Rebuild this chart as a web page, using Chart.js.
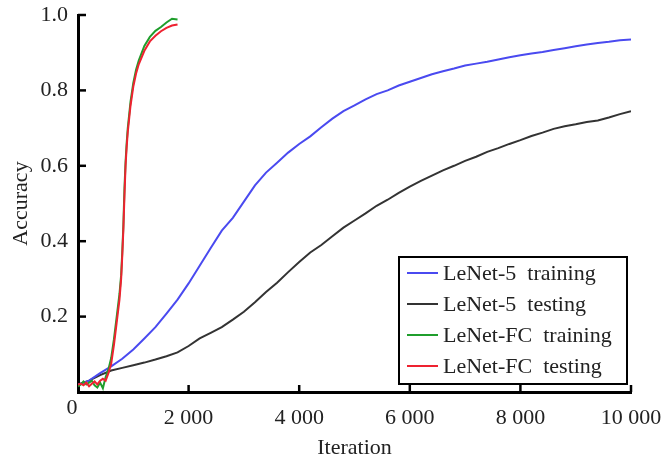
<!DOCTYPE html>
<html>
<head>
<meta charset="utf-8">
<script src="https://cdn.jsdelivr.net/npm/chart.js@4.4.0/dist/chart.umd.min.js"></script>
<style>
  html, body { margin: 0; padding: 0; background: #fff; }
  #wrap { width: 662px; height: 464px; }
</style>
</head>
<body>
<div id="wrap"><canvas id="chart"></canvas></div>
<script>
// Series names (legend order)
const seriesLabels = ['LeNet-5  training', 'LeNet-5  testing', 'LeNet-FC  training', 'LeNet-FC  testing'];
const seriesColors = ['#4a4af0', '#333333', '#1f9e2c', '#ee2230'];

// LeNet-5 curves, sampled every 200 iterations
const lenet5Iter = [0, 200, 400, 600, 800, 1000, 1200, 1400, 1600, 1800, 2000, 2200, 2400, 2600, 2800, 3000,
  3200, 3400, 3600, 3800, 4000, 4200, 4400, 4600, 4800, 5000, 5200, 5400, 5600, 5800, 6000, 6200, 6400,
  6600, 6800, 7000, 7200, 7400, 7600, 7800, 8000, 8200, 8400, 8600, 8800, 9000, 9200, 9400, 9600, 9800, 10000];
const lenet5Train = [0.02, 0.03, 0.05, 0.068, 0.088, 0.113, 0.142, 0.172, 0.208, 0.245, 0.288, 0.335, 0.382,
  0.428, 0.462, 0.505, 0.548, 0.582, 0.608, 0.635, 0.658, 0.678, 0.702, 0.725, 0.745, 0.76, 0.776, 0.79,
  0.80, 0.813, 0.823, 0.833, 0.843, 0.851, 0.858, 0.866, 0.871, 0.876, 0.882, 0.888, 0.893, 0.898, 0.902,
  0.907, 0.912, 0.917, 0.922, 0.926, 0.929, 0.933, 0.935];
const lenet5Test = [0.02, 0.03, 0.045, 0.057, 0.064, 0.071, 0.078, 0.086, 0.095, 0.105, 0.122, 0.142, 0.157,
  0.172, 0.192, 0.213, 0.238, 0.265, 0.29, 0.318, 0.345, 0.37, 0.39, 0.413, 0.436, 0.455, 0.474, 0.494,
  0.51, 0.528, 0.545, 0.56, 0.574, 0.588, 0.60, 0.613, 0.624, 0.637, 0.647, 0.658, 0.668, 0.679, 0.688,
  0.698, 0.705, 0.71, 0.716, 0.72, 0.728, 0.737, 0.745];

// LeNet-FC curves (only run to ~1800 iterations)
const fcIter = [0, 50, 100, 150, 200, 250, 300, 350, 400, 450, 500, 550, 600, 650, 700, 750, 780, 800, 820,
  840, 860, 880, 900, 950, 1000, 1050, 1100, 1200, 1300, 1400, 1500, 1600, 1700, 1800];
const fcTrain = [0.015, 0.02, 0.028, 0.02, 0.025, 0.03, 0.018, 0.012, 0.025, 0.01, 0.04, 0.06, 0.09, 0.14,
  0.2, 0.26, 0.31, 0.37, 0.44, 0.54, 0.61, 0.66, 0.7, 0.77, 0.82, 0.855, 0.88, 0.918, 0.942, 0.958, 0.968,
  0.98, 0.99, 0.988];
const fcTest = [0.02, 0.022, 0.018, 0.025, 0.015, 0.022, 0.028, 0.02, 0.03, 0.035, 0.03, 0.05, 0.075, 0.125,
  0.185, 0.245, 0.3, 0.36, 0.43, 0.52, 0.6, 0.65, 0.69, 0.76, 0.81, 0.845, 0.87, 0.905, 0.93, 0.945, 0.957,
  0.966, 0.972, 0.975];

const xMax = 10000;
const xStep = 2000;
const yStep = 0.2;

const FONT = "'Liberation Serif', 'Times New Roman', serif";
const TEXT = '#222';
const SIZE = 22;

const toPoints = (xs, ys) => xs.map((x, i) => ({ x, y: ys[i] }));

// Inward tick marks + the lone "0" at the corner
const inwardTicks = {
  id: 'inwardTicks',
  afterDraw(chart) {
    const { ctx, chartArea, scales: { x, y } } = chart;
    ctx.save();
    ctx.strokeStyle = '#000';
    ctx.lineWidth = 2.5;
    x.ticks.forEach(t => {
      if (t.value === 0) return;
      const px = x.getPixelForValue(t.value);
      ctx.beginPath();
      ctx.moveTo(px, chartArea.bottom);
      ctx.lineTo(px, chartArea.bottom - 7);
      ctx.stroke();
    });
    y.ticks.forEach(t => {
      if (t.value === 0) return;
      const py = y.getPixelForValue(t.value);
      ctx.beginPath();
      ctx.moveTo(chartArea.left, py);
      ctx.lineTo(chartArea.left + 8, py);
      ctx.stroke();
    });
    ctx.fillStyle = TEXT;
    ctx.font = SIZE + 'px ' + FONT;
    ctx.textAlign = 'center';
    ctx.textBaseline = 'middle';
    ctx.fillText('0', x.getPixelForValue(0) - 6, chartArea.bottom + 16);
    ctx.restore();
  }
};

// Boxed legend in the lower right of the plot
const boxLegend = {
  id: 'boxLegend',
  afterDraw(chart) {
    const { ctx, chartArea } = chart;
    const sets = chart.data.datasets;
    const rowH = 31;
    const w = 228;
    const h = rowH * sets.length + 3;
    const right = chartArea.right - 4;
    const bottom = chartArea.bottom - 8;
    const left = right - w;
    const top = bottom - h;
    ctx.save();
    ctx.fillStyle = '#fff';
    ctx.fillRect(left, top, w, h);
    ctx.strokeStyle = '#000';
    ctx.lineWidth = 2;
    ctx.strokeRect(left, top, w, h);
    ctx.font = SIZE + 'px ' + FONT;
    ctx.textBaseline = 'middle';
    ctx.textAlign = 'left';
    sets.forEach((ds, i) => {
      const cy = top + 16 + i * rowH;
      ctx.strokeStyle = ds.borderColor;
      ctx.lineWidth = 2;
      ctx.beginPath();
      ctx.moveTo(left + 8, cy);
      ctx.lineTo(left + 39, cy);
      ctx.stroke();
      ctx.fillStyle = TEXT;
      ctx.fillText(ds.label, left + 44, cy + 1);
    });
    ctx.restore();
  }
};

const line = (label, color, pts, order) => ({
  label,
  data: pts,
  borderColor: color,
  backgroundColor: color,
  borderWidth: 2,
  pointRadius: 0,
  tension: 0,
  order
});

new Chart(document.getElementById('chart'), {
  type: 'line',
  data: {
    datasets: [
      line(seriesLabels[0], seriesColors[0], toPoints(lenet5Iter, lenet5Train), 3),
      line(seriesLabels[1], seriesColors[1], toPoints(lenet5Iter, lenet5Test), 4),
      line(seriesLabels[2], seriesColors[2], toPoints(fcIter, fcTrain), 2),
      line(seriesLabels[3], seriesColors[3], toPoints(fcIter, fcTest), 1)
    ]
  },
  options: {
    responsive: true,
    maintainAspectRatio: false,
    animation: false,
    layout: { padding: { top: 15, right: 31, bottom: 0, left: 0 } },
    plugins: {
      legend: { display: false },
      tooltip: { enabled: false }
    },
    scales: {
      x: {
        type: 'linear',
        min: 0,
        max: xMax,
        afterFit: s => { s.height = 72; s.paddingLeft = 0; s.paddingRight = 0; },
        grid: { display: true, drawOnChartArea: false, drawTicks: false },
        border: { display: true, color: '#000', width: 3 },
        ticks: {
          stepSize: xStep,
          padding: 13,
          color: TEXT,
          font: { family: FONT, size: SIZE },
          maxRotation: 0,
          callback: v => v === 0 ? '' : (v / 1000) + ' 000'
        },
        title: {
          display: true,
          text: 'Iteration',
          color: TEXT,
          font: { family: FONT, size: SIZE },
          padding: { top: 0, bottom: 3 }
        }
      },
      y: {
        min: 0,
        max: 1,
        afterFit: s => { s.width = 78; s.paddingTop = 0; s.paddingBottom = 0; },
        grid: { display: true, drawOnChartArea: false, drawTicks: false },
        border: { display: true, color: '#000', width: 3 },
        ticks: {
          stepSize: yStep,
          padding: 10,
          color: TEXT,
          font: { family: FONT, size: SIZE },
          callback: v => v === 0 ? '' : v.toFixed(1)
        },
        title: {
          display: true,
          text: 'Accuracy',
          color: TEXT,
          font: { family: FONT, size: SIZE },
          padding: { top: 8, bottom: 0 }
        }
      }
    }
  },
  plugins: [inwardTicks, boxLegend]
});
</script>
</body>
</html>
